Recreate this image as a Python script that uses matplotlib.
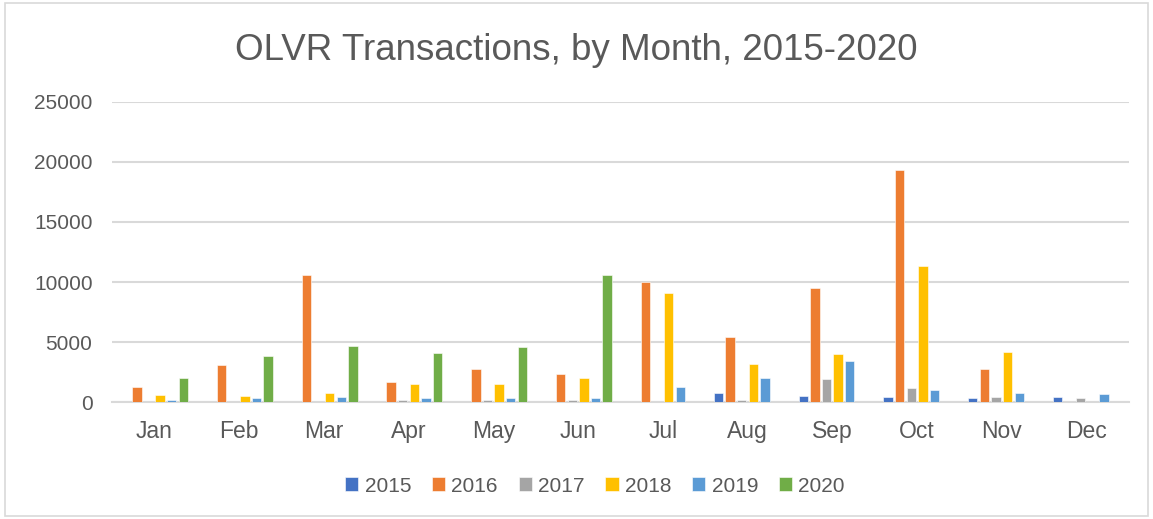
import numpy as np
import matplotlib
matplotlib.use("Agg")
import matplotlib.pyplot as plt
from matplotlib.patches import Rectangle

months = ['Jan', 'Feb', 'Mar', 'Apr', 'May', 'Jun', 'Jul', 'Aug', 'Sep', 'Oct', 'Nov', 'Dec']
years = ['2015', '2016', '2017', '2018', '2019', '2020']

v2015 = [0, 0, 0, 0, 0, 0, 0, 720, 500, 390, 300, 390]
v2016 = [1250, 3060, 10600, 1670, 2720, 2300, 10000, 5420, 9500, 19330, 2750, 0]
v2017 = [0, 0, 0, 200, 200, 200, 0, 200, 1890, 1140, 390, 300]
v2018 = [620, 500, 720, 1470, 1470, 1970, 9080, 3170, 4030, 11330, 4140, 0]
v2019 = [200, 300, 390, 300, 300, 300, 1250, 2000, 3390, 1030, 720, 660]
v2020 = [2000, 3800, 4670, 4110, 4560, 10550, 0, 0, 0, 0, 0, 0]

series = [v2015, v2016, v2017, v2018, v2019, v2020]
colors = ['#4472C4', '#ED7D31', '#A5A5A5', '#FFC000', '#5B9BD5', '#70AD47']

plt.rcParams['font.family'] = ['Liberation Sans', 'DejaVu Sans']

fig = plt.figure(figsize=(11.53, 5.19), dpi=100)
fig.patches.append(Rectangle((0.004, 0.006), 0.992, 0.988, transform=fig.transFigure,
                             fill=False, edgecolor='#d9d9d9', linewidth=1.2))
ax = fig.add_axes([0.0971, 0.2254, 0.882, 0.5781])

x = np.arange(len(months))
slot = 0.137
for i, (vals, col, yr) in enumerate(zip(series, colors, years)):
    ax.bar(x + (i - 2.5) * slot, vals, width=0.11, color=col, label=yr,
           edgecolor='white', linewidth=0.4, zorder=3)

ax.set_xlim(-0.5, 11.5)
ax.set_ylim(0, 25000)
ax.set_yticks(range(0, 25001, 5000))
ax.set_xticks(x)
ax.set_xticklabels(months)
ax.yaxis.grid(True, color='#d9d9d9', linewidth=1.5, zorder=0)
for s in ['top', 'right', 'left']:
    ax.spines[s].set_visible(False)
ax.spines['bottom'].set_color('#d9d9d9')
ax.spines['bottom'].set_linewidth(1.5)
ax.tick_params(axis='both', length=0, colors='#595959')
ax.tick_params(axis='x', pad=13, labelsize=16.5)
ax.tick_params(axis='y', pad=14, labelsize=15)

fig.text(0.5, 1 - 60 / 519, 'OLVR Transactions, by Month, 2015-2020', ha='center',
         va='baseline', fontsize=26.5, color='#595959')

leg = ax.legend(loc='center', bbox_to_anchor=(0.475, -0.28), ncol=6, frameon=False,
                fontsize=15, handlelength=0.63, handleheight=0.63, handletextpad=0.3,
                columnspacing=1.0)
for t in leg.get_texts():
    t.set_color('#595959')

fig.savefig('out.png', dpi=100)
